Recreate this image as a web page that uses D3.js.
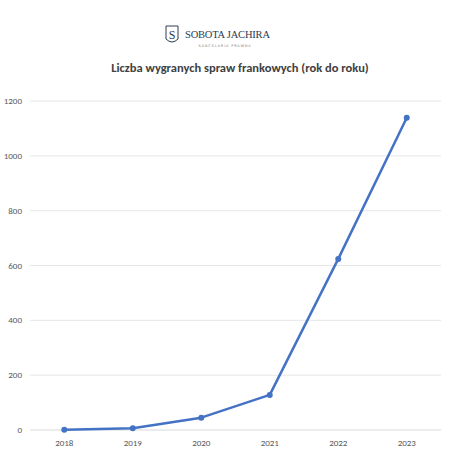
<!DOCTYPE html>
<html lang="pl">
<head>
    <meta charset="UTF-8">
    <title>Liczba wygranych spraw frankowych</title>
    <script src="https://d3js.org/d3.v7.min.js"></script>
    <style>
        body { margin: 0; background: #fff; }
    </style>
</head>
<body>
<svg id="main" width="474" height="474"></svg>
<script>
    const years = ['2018', '2019', '2020', '2021', '2022', '2023'];
    const wins = [1, 6, 45, 128, 624, 1139];
    const yTicks = [0, 200, 400, 600, 800, 1000, 1200];

    const svg = d3.select('svg#main');
    const font = 'Calibri, Carlito, "Open Sans", "DejaVu Sans", sans-serif';

    // logo
    const logo = svg.append('g').attr('fill', '#2e3a52');
    logo.append('path')
        .attr('d', 'M166,26 L178,26 L178,39 Q172,45 166,39 Z')
        .attr('fill', 'none')
        .attr('stroke', '#2e3a52')
        .attr('stroke-width', 1);
    logo.append('text')
        .attr('x', 172).attr('y', 38.5)
        .attr('text-anchor', 'middle')
        .style('font-family', '"Liberation Serif", "DejaVu Serif", serif')
        .style('font-size', '12px')
        .text('S');
    logo.append('text')
        .attr('x', 185).attr('y', 37.5)
        .attr('textLength', 85)
        .style('font-family', '"Liberation Serif", "DejaVu Serif", serif')
        .style('font-size', '10.5px')
        .text('SOBOTA JACHIRA');
    logo.append('text')
        .attr('x', 225).attr('y', 46.5)
        .attr('text-anchor', 'middle')
        .style('font-family', '"DejaVu Sans", sans-serif')
        .style('font-size', '3.6px')
        .style('letter-spacing', '0.8px')
        .attr('fill', '#888')
        .text('KANCELARIA PRAWNA');

    svg.append('text')
        .attr('x', 240).attr('y', 72)
        .attr('text-anchor', 'middle')
        .style('font-family', font)
        .style('font-size', '12.5px')
        .style('font-weight', 'bold')
        .attr('fill', '#404040')
        .text('Liczba wygranych spraw frankowych (rok do roku)');

    const x = d3.scaleBand().domain(years).range([30, 441]);
    const y = d3.scaleLinear().domain([0, 1200]).range([430, 101]);

    // gridlines
    svg.append('g')
        .selectAll('line')
        .data(yTicks)
        .join('line')
        .attr('x1', 30).attr('x2', 441)
        .attr('y1', d => y(d)).attr('y2', d => y(d))
        .attr('stroke', d => d === 0 ? '#d9d9d9' : '#e6e6e6')
        .attr('stroke-width', 1);

    svg.append('g')
        .selectAll('text')
        .data(yTicks)
        .join('text')
        .attr('x', 22)
        .attr('y', d => y(d) + 3)
        .attr('text-anchor', 'end')
        .style('font-family', font)
        .style('font-size', '9px')
        .attr('fill', '#595959')
        .text(d => d);

    svg.append('g')
        .selectAll('text')
        .data(years)
        .join('text')
        .attr('x', d => x(d) + x.bandwidth() / 2)
        .attr('y', 446)
        .attr('text-anchor', 'middle')
        .style('font-family', font)
        .style('font-size', '9px')
        .attr('fill', '#595959')
        .text(d => d);

    const line = d3.line()
        .x((d, i) => x(years[i]) + x.bandwidth() / 2)
        .y(d => y(d));

    svg.append('path')
        .datum(wins)
        .attr('d', line)
        .attr('fill', 'none')
        .attr('stroke', '#4472c4')
        .attr('stroke-width', 2.5)
        .attr('stroke-linejoin', 'round');

    svg.append('g')
        .selectAll('circle')
        .data(wins)
        .join('circle')
        .attr('cx', (d, i) => x(years[i]) + x.bandwidth() / 2)
        .attr('cy', d => y(d))
        .attr('r', 3)
        .attr('fill', '#4472c4');
</script>
</body>
</html>
